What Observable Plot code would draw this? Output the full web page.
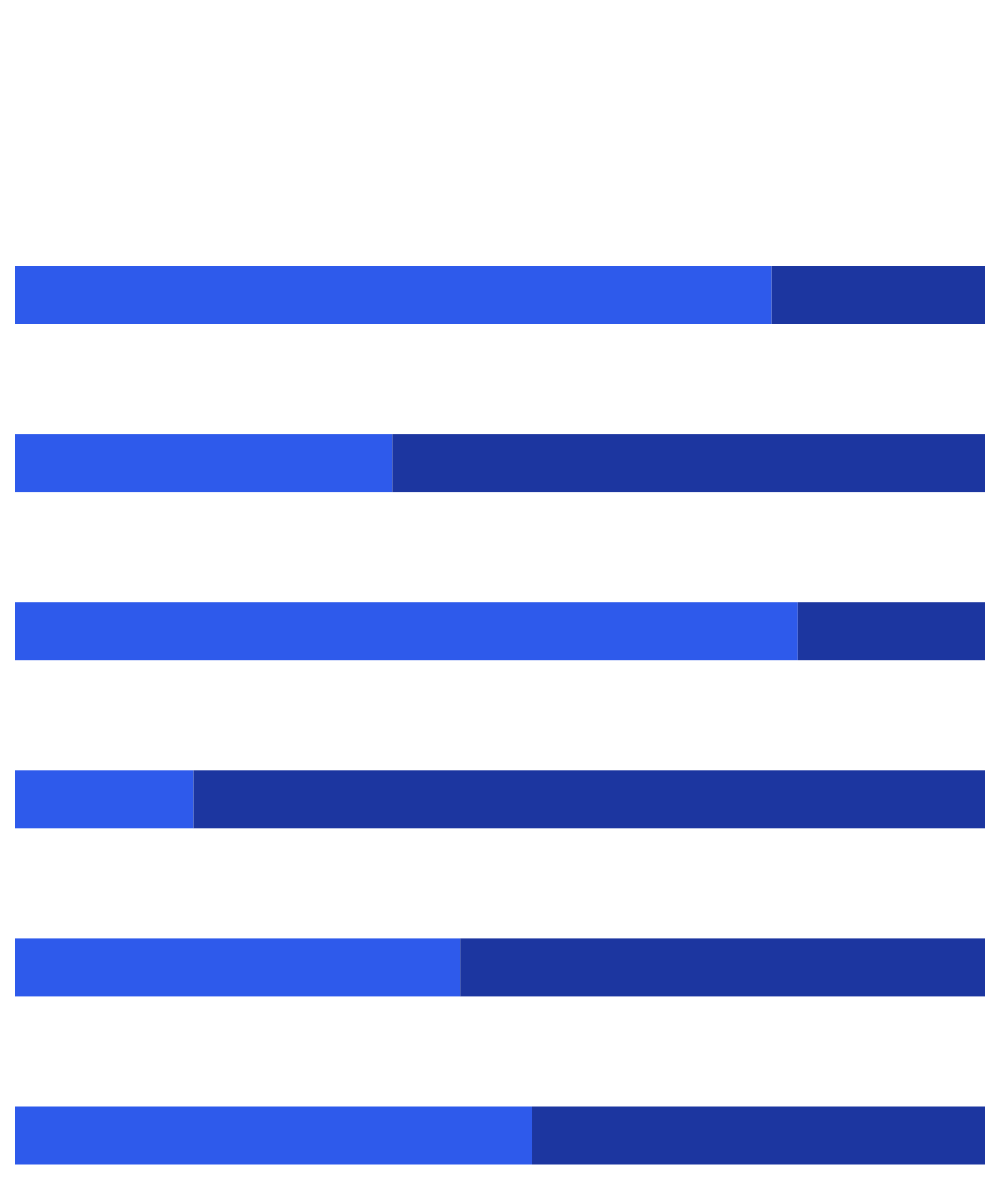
<!DOCTYPE html>
<html>
<head>
<meta charset="utf-8">
<script src="https://cdn.jsdelivr.net/npm/d3@7"></script>
<script src="https://cdn.jsdelivr.net/npm/@observablehq/plot@0.6"></script>
<style>
  html, body { margin: 0; padding: 0; background: #ffffff; }
  #chart { width: 1000px; }
</style>
</head>
<body>
<div id="chart"></div>
<script>
// Data
const categories = ["A", "B", "C", "D", "E", "F"];
const seriesNames = ["First", "Second"];
const firstShare = [78.0, 38.9, 80.7, 18.4, 45.9, 53.3];
const secondShare = [22.0, 61.1, 19.3, 81.6, 54.1, 46.7];
const seriesColors = ["#2e5aeb", "#1c36a0"];

const table = [];
categories.forEach((c, i) => {
  table.push({category: c, series: seriesNames[0], value: firstShare[i]});
  table.push({category: c, series: seriesNames[1], value: secondShare[i]});
});

const chart = Plot.plot({
  width: 1000,
  height: 1200,
  marginTop: 266,
  marginBottom: 35.5,
  marginLeft: 15,
  marginRight: 15,
  x: {domain: [0, 100], axis: null},
  y: {domain: categories, axis: null, paddingInner: 0.655, paddingOuter: 0, round: false},
  color: {domain: seriesNames, range: seriesColors},
  marks: [
    Plot.barX(table, Plot.stackX({
      y: "category",
      x: "value",
      fill: "series",
      order: seriesNames
    }))
  ]
});
document.getElementById("chart").appendChild(chart);
</script>
</body>
</html>
